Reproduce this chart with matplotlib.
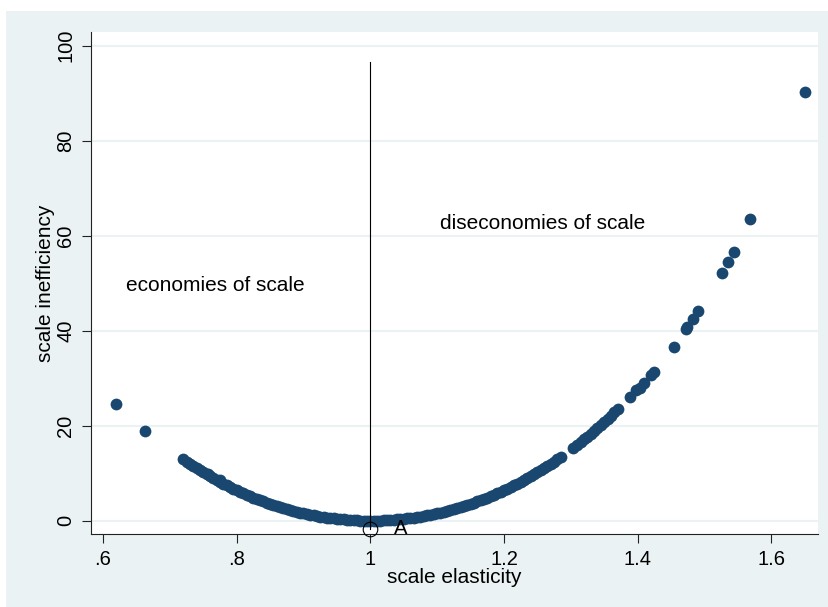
import matplotlib
matplotlib.use("Agg")
import matplotlib.pyplot as plt
from matplotlib.patches import Rectangle

plt.rcParams["font.family"] = ["Liberation Sans", "DejaVu Sans"]

# scale elasticity / scale inefficiency, lower branch (elasticity < 1)
left_x = [0.720, 0.725, 0.730, 0.735, 0.740, 0.745, 0.750, 0.755, 0.760, 0.765,
          0.770, 0.775, 0.780, 0.785, 0.790, 0.795, 0.800, 0.805, 0.810, 0.815,
          0.820, 0.825, 0.830, 0.835, 0.840, 0.845, 0.850, 0.855, 0.860, 0.865,
          0.870, 0.875, 0.880, 0.885, 0.890, 0.895, 0.900, 0.905, 0.910, 0.915,
          0.920, 0.925, 0.930, 0.935, 0.940, 0.945, 0.950, 0.955, 0.960, 0.965,
          0.970, 0.975, 0.980, 0.985, 0.990, 0.995, 1.000]
left_y = [12.89, 12.41, 11.94, 11.48, 11.03, 10.59, 10.16, 9.74, 9.33, 8.93,
          8.54, 8.15, 7.78, 7.42, 7.07, 6.73, 6.39, 6.07, 5.75, 5.45,
          5.15, 4.86, 4.58, 4.31, 4.05, 3.79, 3.55, 3.31, 3.08, 2.86,
          2.65, 2.45, 2.26, 2.07, 1.89, 1.72, 1.56, 1.41, 1.26, 1.13,
          1.00, 0.88, 0.76, 0.66, 0.56, 0.47, 0.39, 0.31, 0.25, 0.19,
          0.14, 0.10, 0.06, 0.03, 0.02, 0.00, 0.00]

# upper branch (elasticity > 1), dense part
right_x = [1.005, 1.010, 1.015, 1.020, 1.025, 1.030, 1.035, 1.040, 1.045, 1.050,
           1.055, 1.060, 1.065, 1.070, 1.075, 1.080, 1.085, 1.090, 1.095, 1.100,
           1.105, 1.110, 1.115, 1.120, 1.125, 1.130, 1.135, 1.140, 1.145, 1.150,
           1.155, 1.160, 1.165, 1.170, 1.175, 1.180, 1.185, 1.190, 1.195, 1.200,
           1.205, 1.210, 1.215, 1.220, 1.225, 1.230, 1.235, 1.240, 1.245, 1.250,
           1.255, 1.260, 1.265, 1.270, 1.275, 1.280, 1.285]
right_y = [0.00, 0.02, 0.03, 0.06, 0.10, 0.14, 0.19, 0.25, 0.31, 0.39,
           0.47, 0.56, 0.66, 0.76, 0.88, 1.00, 1.13, 1.26, 1.41, 1.56,
           1.72, 1.89, 2.07, 2.26, 2.45, 2.65, 2.86, 3.08, 3.31, 3.55,
           3.79, 4.05, 4.31, 4.58, 4.86, 5.15, 5.45, 5.75, 6.07, 6.39,
           6.73, 7.07, 7.42, 7.78, 8.15, 8.54, 8.93, 9.33, 9.74, 10.16,
           10.59, 11.03, 11.48, 11.94, 12.41, 12.89, 13.38]

upper_x = [1.303, 1.309, 1.316, 1.320, 1.325, 1.330, 1.335, 1.340, 1.345, 1.350,
           1.355, 1.360, 1.365, 1.370]
upper_y = [15.24, 15.89, 16.67, 17.13, 17.71, 18.30, 18.91, 19.52, 20.15, 20.79,
           21.44, 22.10, 22.78, 23.47]

# sparse observations
sparse_x = [0.619, 0.663, 0.757, 0.775,
            1.388, 1.398, 1.403, 1.409, 1.420, 1.424, 1.454, 1.472, 1.474, 1.483,
            1.490, 1.526, 1.535, 1.544, 1.569, 1.651]
sparse_y = [24.6, 18.9, 9.9, 8.6,
            26.1, 27.5, 27.9, 29.0, 30.7, 31.4, 36.6, 40.4, 40.8, 42.5,
            44.1, 52.2, 54.5, 56.6, 63.5, 90.2]

x_ticks = [0.6, 0.8, 1.0, 1.2, 1.4, 1.6]
x_tick_labels = [".6", ".8", "1", "1.2", "1.4", "1.6"]
y_ticks = [0, 20, 40, 60, 80, 100]

point_A = (1.0, -1.75)
divider_top = 96.5

bg = "#EAF2F3"
navy = "#1A476F"

fig = plt.figure(figsize=(8.29, 6.07), dpi=100)
fig.patch.set_facecolor("white")
fig.patches.append(Rectangle((6 / 829, 0), 1, 1 - 11 / 607, transform=fig.transFigure,
                             facecolor=bg, edgecolor="none", zorder=-10))

ax = fig.add_axes([0.1098, 0.1203, 0.8769, 0.827])
ax.set_facecolor("white")

for xs, ys in [(left_x, left_y), (right_x, right_y), (upper_x, upper_y), (sparse_x, sparse_y)]:
    ax.scatter(xs, ys, s=72, color=navy, linewidths=0, zorder=3)

# vertical divider at constant returns to scale
ax.plot([point_A[0], point_A[0]], [point_A[1], divider_top], color="black", lw=0.8, zorder=4)
ax.plot([point_A[0]], [point_A[1]], marker="o", markersize=10.5, markerfacecolor="none",
        markeredgecolor="black", markeredgewidth=0.8, zorder=5, clip_on=False)
ax.text(1.036, point_A[1], "A", fontsize=14.5, ha="left", va="center")

ax.text(0.6345, 49.6, "economies of scale", fontsize=15, ha="left", va="center")
ax.text(1.1049, 62.5, "diseconomies of scale", fontsize=15, ha="left", va="center")

ax.set_xlim(0.582, 1.670)
ax.set_ylim(-2.8, 102.9)
ax.set_xticks(x_ticks)
ax.set_xticklabels(x_tick_labels)
ax.set_yticks(y_ticks)
ax.set_yticklabels([str(v) for v in y_ticks], rotation=90, va="center")

ax.yaxis.grid(True, color=bg, lw=1.5)
ax.set_axisbelow(True)

for side in ["top", "right"]:
    ax.spines[side].set_visible(False)
for side in ["left", "bottom"]:
    ax.spines[side].set_color("#222222")
    ax.spines[side].set_linewidth(0.8)

ax.tick_params(direction="out", length=6.5, width=0.8, labelsize=14.5, pad=5, color="#222222")

ax.set_xlabel("scale elasticity", fontsize=15, va="center")
ax.xaxis.set_label_coords(0.5, -0.0876)
ax.set_ylabel("scale inefficiency", fontsize=15, va="center")
ax.yaxis.set_label_coords(-0.0633, 0.5)

fig.savefig("out.png", dpi=100, facecolor=fig.get_facecolor())
